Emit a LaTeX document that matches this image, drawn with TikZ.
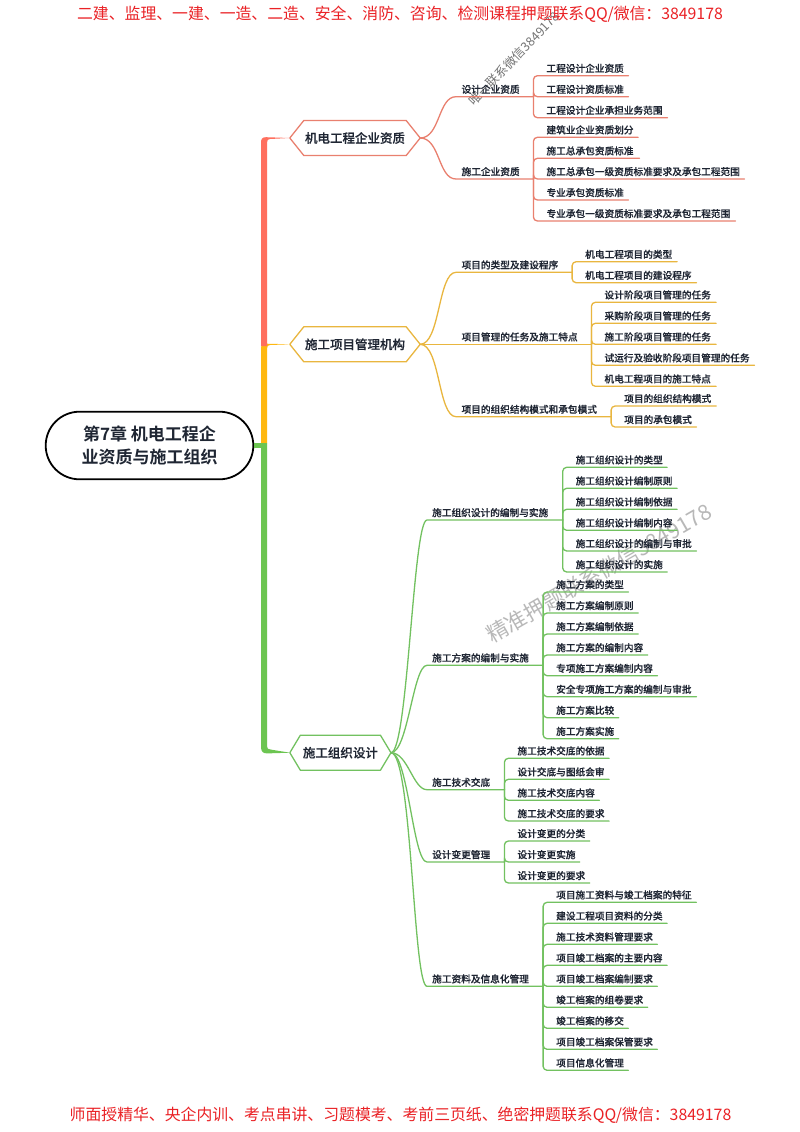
\documentclass[tikz,border=0pt]{standalone}
\usepackage{fontspec}
\setmainfont{Noto Sans CJK SC}
\newfontfamily\medf{Noto Sans CJK SC Medium}[FakeBold=0.35]
\newfontfamily\boldf{Noto Sans CJK SC Bold}
\usetikzlibrary{shapes.misc,calc}
\definecolor{redL}{HTML}{E9806F}
\definecolor{yelL}{HTML}{E9B63F}
\definecolor{greL}{HTML}{72C160}
\definecolor{redT}{HTML}{FF6F5E}
\definecolor{yelT}{HTML}{FFB810}
\definecolor{greT}{HTML}{6CC551}
\definecolor{ink}{HTML}{1F2633}
\definecolor{hdr}{HTML}{EA2226}
\tikzset{
  lf/.style={inner sep=0pt,text height=10pt,text depth=3.5pt,text=ink,font=\medf\fontsize{9.67pt}{11pt}\selectfont},
  hexn/.style={inner sep=0pt,minimum height=34.6pt,text=ink,font=\medf\fontsize{12.5pt}{14pt}\selectfont},
  rootn/.style={rounded rectangle,draw=black,line width=1.8pt,fill=white,minimum width=207.6pt,minimum height=67.6pt,inner sep=0pt,align=center,text=ink,font=\boldf\fontsize{17pt}{22.7pt}\selectfont},
  hdrn/.style={inner sep=0pt,text=hdr,font=\fontsize{15.85pt}{18pt}\selectfont},
  wm/.style={inner sep=0pt,font=\fontsize{12.5pt}{14pt}\selectfont},
  conn/.style={line width=1.3pt,line cap=round,line join=round}
}
\newcommand{\lf}[5]{%
  \pgfmathsetmacro\lw{#4-\bx}%
  \node[lf,anchor=south west] (#1) at (\bx,#3) {\makebox[\lw pt][l]{\hspace*{13.3pt}#5}};
  \draw[conn,draw=\cl,rounded corners=4pt] (#2.south east) |- (#1.south east);
}
\newcommand{\md}[9]{% name parent x0 y xend text ctrl1 ctrl2 offs
  \pgfmathsetmacro\lw{#5-#3}%
  \node[lf,anchor=south west] (#1) at (#3,#4) {\makebox[\lw pt][l]{\hspace*{#9pt}#6}};
  \draw[conn,draw=\cl] (#2.east) .. controls +(#7,0) and +(#8,0) .. (#1.south west) -- (#1.south east);
}
\newcommand{\hexd}[3]{% node, colour, shoulder
  \draw[draw=#2,line width=1.3pt,line join=round,fill=white] (#1.west) -- ([xshift=#3pt]#1.north west) -- ([xshift=-#3pt]#1.north east) -- (#1.east) -- ([xshift=-#3pt]#1.south east) -- ([xshift=#3pt]#1.south west) -- cycle;
}
\begin{document}
\begin{tikzpicture}[x=1pt,y=-1pt]
\useasboundingbox (0,0) rectangle (800,1132);
\fill[white] (0,0) rectangle (800,1132);
% watermarks
\node[wm,text=black!55,rotate=46,anchor=west] (wma) at (471,103) {唯一联系微信3849178};
\node[wm,text=black!28,rotate=30,anchor=west,font=\fontsize{21.5pt}{24pt}\selectfont] (wmb) at (488,637) {精准押题联系微信3849178};
% header / footer
\node[hdrn] (top) at (400,14.5) {二建、监理、一建、一造、二造、安全、消防、咨询、检测课程押题联系QQ/微信：3849178};
\node[hdrn] (bot) at (400.5,1115) {师面授精华、央企内训、考点串讲、习题模考、考前三页纸、绝密押题联系QQ/微信：3849178};
% anchors
\node[hexn,minimum width=130pt] (ha) at (355,138) {};
\node[hexn,minimum width=130pt] (hb) at (355,344.3) {};
\node[hexn,minimum width=100.7pt] (hc) at (340.4,752.7) {};
% spine
\fill[yelT] (261,443) -- (261,349) .. controls (261,345.5) and (262,343.7) .. (266,343.7) -- (hb.west) -- (270,345) .. controls (268,345) and (267,346) .. (267,349) -- (267,443) -- cycle;
\fill[redT] (261,346) -- (261,143) .. controls (261,139) and (262,137.2) .. (266,137.2) -- (ha.west) -- (270,139) .. controls (268,139) and (267,140) .. (267,143) -- (267,346) -- cycle;
\fill[greT] (261,443) -- (261,747) .. controls (261,751.5) and (263,753.4) .. (267,753.4) -- (hc.west) -- (271,749.6) .. controls (268,749.6) and (267,748.5) .. (267,746) -- (267,443) -- cycle;
% root
\node[rootn] (root) at (149.5,445.5) {第7章 机电工程企\\业资质与施工组织};
\draw[greT,line width=5pt] (root.east) -- (261,445.5);
% hexagons
\hexd{ha}{redL}{14}
\hexd{hb}{yelL}{14}
\hexd{hc}{greL}{10.5}
\node[hexn] at (ha) {机电工程企业资质};
\node[hexn] at (hb) {施工项目管理机构};
\node[hexn] at (hc) {施工组织设计};
% red branch
\def\cl{redL}
\md{a1}{ha}{456}{96.7}{533}{设计企业资质}{20}{-18}{5.4}
\def\bx{533}
\lf{a11}{a1}{75.7}{628}{工程设计企业资质}
\lf{a12}{a1}{96.7}{628}{工程设计资质标准}
\lf{a13}{a1}{117.7}{667}{工程设计企业承担业务范围}
\md{a2}{ha}{456}{179}{533}{施工企业资质}{20}{-18}{5.4}
\lf{a21}{a2}{137.3}{637.7}{建筑业企业资质划分}
\lf{a22}{a2}{158.3}{639}{施工总承包资质标准}
\lf{a23}{a2}{179}{744}{施工总承包一级资质标准要求及承包工程范围}
\lf{a24}{a2}{200}{628}{专业承包资质标准}
\lf{a25}{a2}{221}{735}{专业承包一级资质标准要求及承包工程范围}
% yellow branch
\def\cl{yelL}
\md{b1}{hb}{456}{272.3}{571.7}{项目的类型及建设程序}{20}{-18}{5.4}
\def\bx{571.7}
\lf{b11}{b1}{261.7}{676.7}{机电工程项目的类型}
\lf{b12}{b1}{282.7}{696}{机电工程项目的建设程序}
\md{b2}{hb}{456}{344.3}{591}{项目管理的任务及施工特点}{20}{-18}{5.4}
\def\bx{591}
\lf{b21}{b2}{302.3}{715.7}{设计阶段项目管理的任务}
\lf{b22}{b2}{323.3}{715.7}{采购阶段项目管理的任务}
\lf{b23}{b2}{344.3}{715.7}{施工阶段项目管理的任务}
\lf{b24}{b2}{365.3}{754}{试运行及验收阶段项目管理的任务}
\lf{b25}{b2}{386.3}{715.7}{机电工程项目的施工特点}
\md{b3}{hb}{456}{416.7}{610.7}{项目的组织结构模式和承包模式}{20}{-18}{5.4}
\def\bx{610.7}
\lf{b31}{b3}{406}{715.7}{项目的组织结构模式}
\lf{b32}{b3}{427}{696}{项目的承包模式}
% green branch
\def\cl{greL}
\md{c1}{hc}{427}{520}{562.3}{施工组织设计的编制与实施}{17}{-14}{5}
\def\bx{562.3}
\lf{c11}{c1}{467.3}{666.7}{施工组织设计的类型}
\lf{c12}{c1}{488.3}{676.7}{施工组织设计编制原则}
\lf{c13}{c1}{509.3}{676.7}{施工组织设计编制依据}
\lf{c14}{c1}{530.3}{676.7}{施工组织设计编制内容}
\lf{c15}{c1}{551}{696}{施工组织设计的编制与审批}
\lf{c16}{c1}{572}{666.7}{施工组织设计的实施}
\md{c2}{hc}{427}{665.3}{542.7}{施工方案的编制与实施}{17}{-14}{5}
\def\bx{542.7}
\lf{c21}{c2}{592}{628}{施工方案的类型}
\lf{c22}{c2}{613}{637.7}{施工方案编制原则}
\lf{c23}{c2}{634}{637.7}{施工方案编制依据}
\lf{c24}{c2}{655}{647.3}{施工方案的编制内容}
\lf{c25}{c2}{675.7}{657}{专项施工方案编制内容}
\lf{c26}{c2}{696.7}{696}{安全专项施工方案的编制与审批}
\lf{c27}{c2}{717.7}{618.3}{施工方案比较}
\lf{c28}{c2}{738.7}{618.3}{施工方案实施}
\md{c3}{hc}{427}{789.7}{504}{施工技术交底}{17}{-14}{5}
\def\bx{504}
\lf{c31}{c3}{758.3}{608.7}{施工技术交底的依据}
\lf{c32}{c3}{779.3}{608.7}{设计交底与图纸会审}
\lf{c33}{c3}{800.3}{599}{施工技术交底内容}
\lf{c34}{c3}{821}{608.7}{施工技术交底的要求}
\md{c4}{hc}{427}{862}{504}{设计变更管理}{17}{-14}{5}
\lf{c41}{c4}{841}{589.3}{设计变更的分类}
\lf{c42}{c4}{862}{579.3}{设计变更实施}
\lf{c43}{c4}{883}{589.3}{设计变更的要求}
\md{c5}{hc}{427}{986.3}{542.7}{施工资料及信息化管理}{21}{-14}{5}
\def\bx{542.7}
\lf{c51}{c5}{902.3}{696}{项目施工资料与竣工档案的特征}
\lf{c52}{c5}{923.3}{666.7}{建设工程项目资料的分类}
\lf{c53}{c5}{944.3}{657}{施工技术资料管理要求}
\lf{c54}{c5}{965.3}{666.7}{项目竣工档案的主要内容}
\lf{c55}{c5}{986.3}{657}{项目竣工档案编制要求}
\lf{c56}{c5}{1007.3}{647.3}{竣工档案的组卷要求}
\lf{c57}{c5}{1028.3}{628}{竣工档案的移交}
\lf{c58}{c5}{1049.3}{657}{项目竣工档案保管要求}
\lf{c59}{c5}{1070.3}{628}{项目信息化管理}
\end{tikzpicture}
\end{document}
